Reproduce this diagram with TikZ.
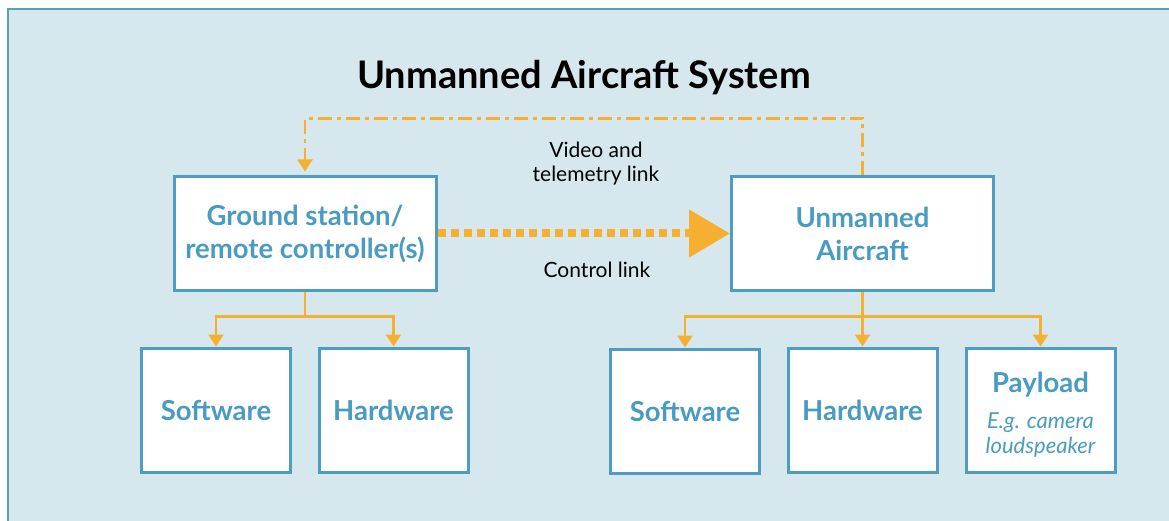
\documentclass[tikz,border=0pt]{standalone}
\usepackage{fontspec}
\setmainfont{Lato}
\usetikzlibrary{arrows.meta}
\definecolor{bgc}{HTML}{D6E7EE}
\definecolor{bordc}{HTML}{5A9FC0}
\definecolor{boxc}{HTML}{4E9DC0}
\definecolor{txtc}{HTML}{4A9BC2}
\definecolor{orc}{HTML}{F6B031}
\newcommand{\subfnt}{\fontsize{22}{25}\selectfont\mdseries\itshape}
\tikzset{
  box/.style={draw=boxc, line width=3pt, fill=white, align=center, text=txtc,
    font=\fontsize{27.5}{33}\selectfont\bfseries, inner sep=0pt},
  bigbox/.style={box, minimum width=262pt, minimum height=113pt},
  smallbox/.style={box, minimum width=149pt, minimum height=124pt},
  tree/.style={draw=orc, line width=2.5pt, -{Triangle[length=12pt,width=15pt]}},
  lbl/.style={align=center, text=black, font=\fontsize{21}{24}\selectfont},
}
\begin{document}
\begin{tikzpicture}[x=1pt,y=-1pt]
\useasboundingbox (0,0) rectangle (1169,521);
\fill[bgc] (8,9) rectangle (1180,530);
\draw[bordc, line width=1.5pt] (8,530) -- (8,9) -- (1180,9);
\node[font=\fontsize{38}{40}\selectfont\bfseries, text=black] (title) at (584,78) {Unmanned Aircraft System};
\node[bigbox] (gs) at (305,233.5) {Ground station/\\remote controller(s)};
\node[bigbox] (ua) at (862.5,233.5) {Unmanned\\Aircraft};
\node[smallbox] (gssw) at (216,410) {Software};
\node[smallbox] (gshw) at (393.5,410) {Hardware};
\node[smallbox] (uasw) at (685,411) {Software};
\node[smallbox] (uahw) at (862.5,410) {Hardware};
\node[smallbox] (pl) at (1040.5,410) {};
\node[align=center, text=txtc, font=\fontsize{27.5}{33}\selectfont\bfseries, inner sep=0pt]
  (pltxt) at ([yshift=-5pt]pl.center) {Payload\\[3pt]\subfnt E.g. camera\\[-8pt]\subfnt loudspeaker};
\node[lbl] (vlbl) at (596,164) {Video and\\telemetry link};
\node[lbl] (clbl) at (597,270) {Control link};
% video link
\draw[orc, line width=2.5pt, dash pattern=on 14pt off 5pt on 4pt off 5pt, -{Triangle[length=12pt,width=15pt]}]
  (ua.north) -- ++(0,-57) -| ([yshift=4pt]gs.north);
% control link
\draw[orc, line width=8pt, dash pattern=on 8pt off 5pt, -{Triangle[length=41pt,width=46pt]}]
  (gs.east) -- (ua.west);
% trees
\coordinate (gsj) at ([yshift=-25pt]gs.south);
\coordinate (uaj) at ([yshift=-25pt]ua.south);
\draw[orc, line width=2.5pt] (gs.south) -- (gsj);
\draw[tree] (gsj) -| (gssw.north);
\draw[tree] (gsj) -| (gshw.north);
\draw[orc, line width=2.5pt] (ua.south) -- (uaj);
\draw[tree] (uaj) -| (uasw.north);
\draw[tree] (ua.south) -- (uahw.north);
\draw[tree] (uaj) -| (pl.north);
\end{tikzpicture}
\end{document}
